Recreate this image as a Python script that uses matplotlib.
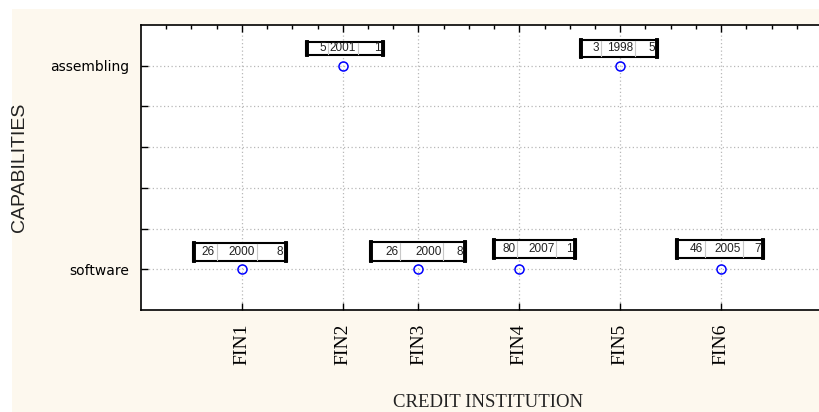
import matplotlib
matplotlib.use("Agg")
import matplotlib.pyplot as plt
from matplotlib.patches import Rectangle
from matplotlib.lines import Line2D
from matplotlib.transforms import ScaledTranslation

# data
institutions = ["FIN1", "FIN2", "FIN3", "FIN4", "FIN5", "FIN6"]
inst_pos = [1, 2, 2.75, 3.75, 4.75, 5.75]
capability_levels = ["software", "assembling"]
capability = ["software", "assembling", "software", "software", "assembling", "software"]
label_a = [26, 5, 26, 80, 3, 46]
label_year = [2000, 2001, 2000, 2007, 1998, 2005]
label_b = [8, 1, 8, 1, 5, 7]

# label box layout, pixels relative to each point
box_left = [-49, -37, -48, -26, -40, -45]
box_bottom = [8, 11, 8, 11, 9, 11]
box_height = [18, 13, 19, 18, 17, 18]
box_cells = [[24, 40, 30], [22, 30, 26], [30, 43, 23],
             [24, 39, 20], [21, 34, 23], [29, 38, 21]]

W, H = 820, 412
cream = "#FDF8EE"

fig = plt.figure(figsize=(W / 100, H / 100), dpi=100, facecolor="white")
fig.patches.append(Rectangle((12 / W, 0), 1, 1 - 9 / H, transform=fig.transFigure,
                             facecolor=cream, edgecolor="none", zorder=-10))

ax = fig.add_axes([141 / W, 1 - 310 / H, 1 - 141 / W, 285 / H])
ax.set_facecolor("white")

yv = [capability_levels.index(c) for c in capability]
ax.plot(inst_pos, yv, linestyle="none", marker="o", markersize=6.5,
        markerfacecolor="none", markeredgecolor="#0000FF", markeredgewidth=1.1, zorder=4)

ax.set_xlim(0, 6.73)
ax.set_ylim(-0.2, 1.2)

ax.set_xticks(inst_pos)
ax.set_xticklabels(institutions, rotation=90, family="Liberation Serif", fontsize=14)
ax.set_xticks([i * 0.25 for i in range(1, 27)], minor=True)
yt = [0, 0.2, 0.4, 0.6, 0.8, 1.0]
ax.set_yticks(yt)
ax.set_yticklabels(["software", "", "", "", "", "assembling"], family="DejaVu Sans", fontsize=10)

ax.tick_params(axis="x", which="major", direction="in", top=True, bottom=True,
               length=5, width=1, pad=10)
ax.tick_params(axis="x", which="minor", direction="in", top=True, bottom=False,
               length=3, width=1)
ax.tick_params(axis="y", which="major", direction="in", left=True, length=5, width=1, pad=8.5)

ax.grid(True, which="major", color="#B8B8B8", linestyle=(0, (1, 2)), linewidth=0.9)
ax.set_axisbelow(True)
ax.spines["right"].set_visible(False)
for s in ["left", "top", "bottom"]:
    ax.spines[s].set_linewidth(1.2)
    ax.spines[s].set_color("black")

# little boxes above each point
for i in range(len(institutions)):
    tr = fig.dpi_scale_trans + ScaledTranslation(inst_pos[i], yv[i], ax.transData)
    l = box_left[i] / 100
    b = box_bottom[i] / 100
    h = box_height[i] / 100
    cells = box_cells[i]
    w = sum(cells) / 100
    ax.add_patch(Rectangle((l, b), w, h, transform=tr, facecolor="white",
                           edgecolor="black", linewidth=1.5, zorder=5, clip_on=False))
    for xe in [l + 0.01, l + w - 0.01]:
        ax.add_line(Line2D([xe, xe], [b, b + h], transform=tr, color="black",
                           linewidth=2.8, zorder=6, clip_on=False))
    vals = [label_a[i], label_year[i], label_b[i]]
    xr = l
    for j, cw in enumerate(cells):
        xr += cw / 100
        if j < 2:
            ax.add_line(Line2D([xr, xr], [b + 0.01, b + h - 0.01], transform=tr,
                               color="#C8C8C8", linewidth=0.8, zorder=6, clip_on=False))
        pad = 0.035 if j == 2 else 0.02
        ax.text(xr - pad, b + h / 2, str(vals[j]), transform=tr, ha="right", va="center",
                fontsize=8.5, family="Liberation Sans", color="#222222", zorder=7, clip_on=False)

fig.text(20 / W, 1 - 167 / H, "CAPABILITIES", rotation=90, ha="center", va="center",
         fontsize=14, family="Liberation Sans", color="#222222")
fig.text(488 / W, 1 / H, "CREDIT INSTITUTION", ha="center", va="bottom",
         fontsize=13.5, family="Liberation Serif", color="#222222")

fig.savefig("out.png", dpi=100, facecolor=fig.get_facecolor())
